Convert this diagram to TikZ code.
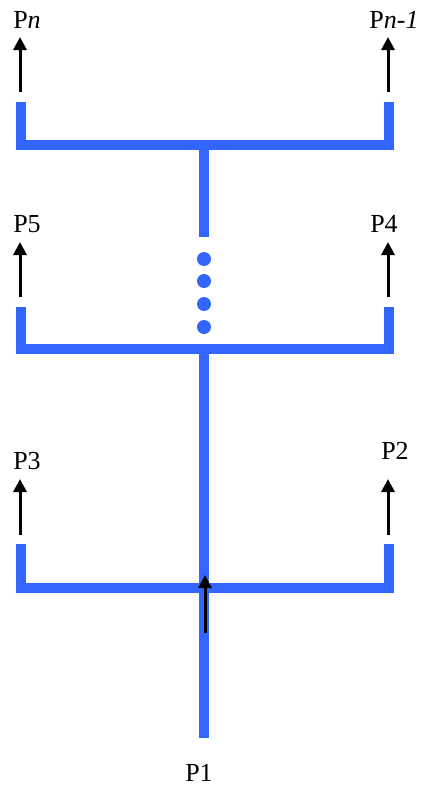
\documentclass[tikz,border=0pt]{standalone}
\usepackage{fontspec}
\setmainfont{Liberation Serif}
\usetikzlibrary{arrows.meta}
\definecolor{pipeblue}{HTML}{3366FF}

\begin{document}
\begin{tikzpicture}[x=1pt, y=-1pt,
  pipe/.style={draw=pipeblue, line width=10pt},
  flow/.style={draw=black, line width=3pt, -{Triangle[length=13pt,width=13pt]}},
  port/.style={inner sep=0pt, font=\fontsize{26}{30}\selectfont},
  blob/.style={fill=pipeblue, draw=none}]
  \useasboundingbox (0,0) rectangle (423,787);

  % port labels
  \node[port] (pn)  at (27,20)  {P\textit{n}};
  \node[port] (pn1) at (394,20) {P\textit{n-1}};
  \node[port] (p5)  at (27,224) {P5};
  \node[port] (p4)  at (384,224) {P4};
  \node[port] (p3)  at (27,461) {P3};
  \node[port] (p2)  at (395,451) {P2};
  \node[port] (p1)  at (199,773) {P1};

  % top level
  \coordinate (tl) at (21,102);
  \coordinate (tr) at (389,102);
  \coordinate (tm) at (204,145);
  \draw[pipe] (tl) -- (tl |- tm) -- (tr |- tm) -- (tr);
  \draw[pipe] (tm) -- (204,237);

  % dots
  \foreach \y in {259,281,304,327}
    \fill[blob] (204,\y) circle (7);

  % middle level
  \coordinate (ml) at (21,307);
  \coordinate (mr) at (389,307);
  \coordinate (mm) at (204,349);
  \draw[pipe] (ml) -- (ml |- mm) -- (mr |- mm) -- (mr);

  % bottom level
  \coordinate (bl) at (21,544);
  \coordinate (br) at (389,544);
  \coordinate (bm) at (204,588);
  \coordinate (inlet) at (204,738);
  \draw[pipe] (bl) -- (bl |- bm) -- (br |- bm) -- (br);
  \draw[pipe] (mm) -- (inlet);

  % flow arrows
  \draw[flow] (20,92)  -- (20,37);
  \draw[flow] (388,92) -- (388,37);
  \draw[flow] (20,297) -- (20,242);
  \draw[flow] (388,297) -- (388,242);
  \draw[flow] (20,535) -- (20,479);
  \draw[flow] (388,535) -- (388,479);
  \draw[flow] (205,633) -- (205,575);
\end{tikzpicture}
\end{document}
